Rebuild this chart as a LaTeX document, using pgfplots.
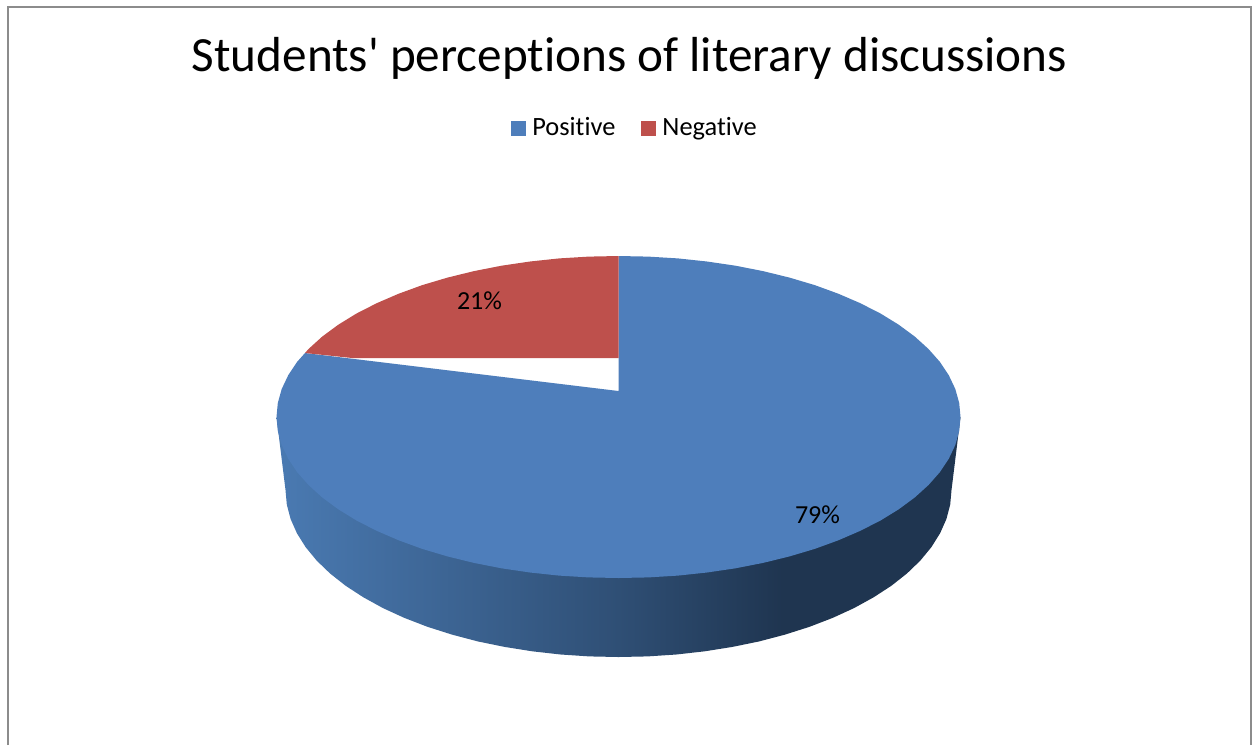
\documentclass[border=0pt]{standalone}
\usepackage{pgfplots}
\pgfplotsset{compat=1.18}
\usepackage{fontspec}
\setmainfont{Carlito}[Ligatures={TeXOff,CommonOff}]

\definecolor{pieblue}{HTML}{4E7EBB}
\definecolor{piered}{HTML}{BE504C}
\definecolor{sideleft}{HTML}{4A7AB2}
\definecolor{sidemid}{HTML}{2F4F75}
\definecolor{sidedark}{HTML}{1F3550}
\definecolor{framegray}{HTML}{8C8C8C}

% bbox of the path maps to 25bp..75bp
\pgfdeclarehorizontalshading{pieside}{100bp}{
  color(0bp)=(sideleft); color(25bp)=(sideleft);
  color(50bp)=(sidemid); color(62bp)=(sidedark); color(100bp)=(sidedark)}

\begin{document}
\begin{tikzpicture}
\useasboundingbox (0,0) rectangle (628pt,372.5pt);
\begin{axis}[
    at={(0,0)}, anchor=south west,
    scale only axis,
    width=628pt, height=372.5pt,
    xmin=0, xmax=1256, ymin=0, ymax=745,
    y dir=reverse,
    hide axis,
    clip=false,
    legend columns=2,
    legend style={at={(axis cs:636,128)}, anchor=center, draw=none, fill=none,
        font=\fontsize{13.2pt}{15pt}\selectfont,
        /tikz/every even column/.append style={column sep=11pt}},
    legend image code/.code={\fill[#1] (0pt,-3.75pt) rectangle (7.5pt,3.75pt); \path (8.5pt,0pt);},
]
% chart frame, open at the bottom
\addplot[draw=framegray, line width=1pt, forget plot] coordinates {
    (8,745) (8,6.5) (1251,6.5) (1251,745)};

% side wall of the pie
\addplot[draw=none, shade, shading=pieside, forget plot] coordinates {
    (276.5,417) (285.5,490) (286.8,504.6) (290.6,519) (296.9,533.2) (305.6,547.1)
    (316.7,560.6) (330.1,573.5) (345.7,585.8) (363.4,597.3) (383,608.1) (404.4,617.9)
    (427.5,626.8) (452,634.6) (477.8,641.4) (504.6,646.9) (532.3,651.3) (560.7,654.5)
    (589.5,656.4) (618.5,657) (647.5,656.4) (676.3,654.5) (704.7,651.3) (732.4,646.9)
    (759.2,641.4) (785,634.6) (809.5,626.8) (832.6,617.9) (854,608.1) (873.6,597.3)
    (891.3,585.8) (906.9,573.5) (920.3,560.6) (931.4,547.1) (940.1,533.2) (946.4,519)
    (950.2,504.6) (951.5,490) (960.5,417)};

% Positive 79%
\addplot[fill=pieblue, draw=none] coordinates {
    (618.5,391) (618.5,256) (648.3,256.6) (677.9,258.4) (707,261.5) (735.5,265.7)
    (763,271.1) (789.5,277.6) (814.7,285.1) (838.3,293.7) (860.3,303.2) (880.5,313.5)
    (898.7,324.7) (914.7,336.5) (928.5,349) (939.9,361.9) (948.8,375.3) (955.3,389)
    (959.2,403) (960.5,417) (959.2,431) (955.3,445) (948.8,458.7) (939.9,472.1)
    (928.5,485) (914.7,497.5) (898.7,509.3) (880.5,520.5) (860.3,530.8) (838.3,540.3)
    (814.7,548.9) (789.5,556.4) (763,562.9) (735.5,568.3) (707,572.5) (677.9,575.6)
    (648.3,577.4) (618.5,578) (588.7,577.4) (559.1,575.6) (530,572.5) (501.5,568.3)
    (474,562.9) (447.5,556.4) (422.3,548.9) (398.7,540.3) (376.7,530.8) (356.5,520.5)
    (338.3,509.3) (322.3,497.5) (308.5,485) (297.1,472.1) (288.2,458.7) (281.7,445)
    (277.8,431) (276.5,417) (277.8,403) (281.7,389) (288.2,375.3) (297.1,361.9)
    (305,353)};
\addlegendentry{Positive}

% Negative 21%
\addplot[fill=piered, draw=none] coordinates {
    (618.5,256) (588.7,256.6) (559.1,258.4) (530,261.5) (501.5,265.7) (474,271.1)
    (447.5,277.6) (422.3,285.1) (398.7,293.7) (376.7,303.2) (356.5,313.5) (338.3,324.7)
    (322.3,336.5) (308.5,349) (305,353) (352,358) (618.5,358)};
\addlegendentry{Negative}

\node[font=\fontsize{13pt}{15pt}\selectfont] at (axis cs:479.5,301) {21\%};
\node[font=\fontsize{13pt}{15pt}\selectfont] at (axis cs:817.5,515) {79\%};
\node[font=\fontsize{24.6pt}{28pt}\selectfont] at (axis cs:629.5,58) {Students' perceptions of literary discussions};
\end{axis}
\end{tikzpicture}
\end{document}
